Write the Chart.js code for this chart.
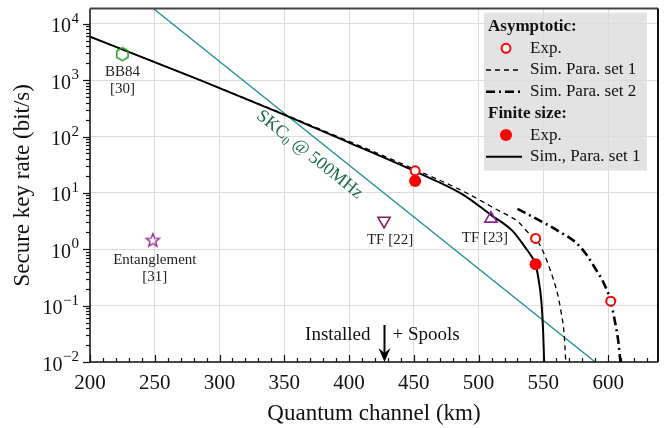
<!DOCTYPE html>
<html>
<head>
<meta charset="utf-8">
<script src="https://cdn.jsdelivr.net/npm/chart.js@4.4.1/dist/chart.umd.min.js"></script>
<style>
  html, body { margin: 0; padding: 0; background: #fff; }
  #wrap { width: 670px; height: 428px; }
</style>
</head>
<body>
<div id="wrap"><canvas id="keyRateChart" width="670" height="428"></canvas></div>
<script>
// ---- data (km, bit/s) ----
const xMin = 200, xMax = 638.5;
const yMin = 0.01, yMax = 18600;

// SKC0 @ 500MHz bound
const skcKm = [245, 590];
const skcRate = [22000, 0.01];

// finite size, sim. para. set 1 (solid)
const finSimKm = [200, 285, 346, 400, 451, 487, 510, 526, 536, 540, 544, 546, 548.4, 549.8, 550.6];
const finSimRate = [5900, 1000, 266, 78, 24, 9.6, 4.0, 2.14, 1.08, 0.8, 0.54, 0.32, 0.123, 0.036, 0.01];

// asymptotic, sim. para. set 1 (dashed)
const asySim1Km = [200, 285, 346, 400, 451, 487, 513, 531, 538, 545, 550, 554, 558, 561, 564, 566, 567.3];
const asySim1Rate = [5900, 1000, 270, 82, 26, 11, 5.2, 3.0, 2.0, 1.45, 0.89, 0.52, 0.28, 0.16, 0.07, 0.032, 0.01];

// asymptotic, sim. para. set 2 (dash-dot)
const asySim2Km = [530, 548, 561, 576, 584, 589, 597, 602, 605, 608, 609.5];
const asySim2Rate = [5.2, 3.16, 2.14, 1.26, 0.76, 0.5, 0.24, 0.12, 0.056, 0.022, 0.01];

// experiments
const expAsyKm = [451, 544, 602];
const expAsyRate = [24.6, 1.56, 0.12];
const expFinKm = [451, 544];
const expFinRate = [16.3, 0.54];

// other works
const bb84Km = [225], bb84Rate = [2900];
const entKm = [248.5], entRate = [1.43];
const tf22Km = [427], tf22Rate = [3.2];
const tf23Km = [509.5], tf23Rate = [3.5];

const installedKm = 427;

const serif = "'Liberation Serif', 'DejaVu Serif', serif";

function pts(xs, ys) {
  return xs.map((x, i) => ({ x: x, y: ys[i] }));
}

// custom marker images (Chart.js has no hexagon or 5-point star)
function makeMarker(kind, color, r, lw) {
  const c = document.createElement('canvas');
  const s = Math.ceil(r * 2 + 4);
  c.width = s; c.height = s;
  const g = c.getContext('2d');
  const cx = s / 2, cy = s / 2;
  g.strokeStyle = color;
  g.lineWidth = lw;
  g.beginPath();
  if (kind === 'hex') {
    for (let i = 0; i < 6; i++) {
      const a = -Math.PI / 2 + i * Math.PI / 3;
      const px = cx + r * Math.cos(a), py = cy + r * Math.sin(a);
      if (i === 0) g.moveTo(px, py); else g.lineTo(px, py);
    }
  } else {
    for (let i = 0; i < 10; i++) {
      const a = -Math.PI / 2 + i * Math.PI / 5;
      const rr = i % 2 === 0 ? r : r * 0.42;
      const px = cx + rr * Math.cos(a), py = cy + rr * Math.sin(a);
      if (i === 0) g.moveTo(px, py); else g.lineTo(px, py);
    }
  }
  g.closePath();
  g.stroke();
  return c;
}

const hexImg = makeMarker('hex', '#229922', 6.5, 1.5);
const starImg = makeMarker('star', '#8e1f8e', 7, 1.3);

const lineBase = {
  showLine: true,
  pointRadius: 0,
  pointHoverRadius: 0,
  fill: false,
  cubicInterpolationMode: 'monotone'
};

// labels next to the literature markers: [km, rate, dx, dy, lines]
const noteLabels = [
  [bb84Km[0], bb84Rate[0], 0, 18, ['BB84', '[30]']],
  [entKm[0], entRate[0], 2, 20, ['Entanglement', '[31]']],
  [tf22Km[0], tf22Rate[0], 6, 19, ['TF [22]']],
  [tf23Km[0], tf23Rate[0], -6, 19, ['TF [23]']]
];

const legendRows = [
  ['head', 'Asymptotic:'],
  ['open', 'Exp.'],
  ['dash', 'Sim. Para. set 1'],
  ['dashdot', 'Sim. Para. set 2'],
  ['head', 'Finite size:'],
  ['filled', 'Exp.'],
  ['solid', 'Sim., Para. set 1']
];

// legend box background goes under the grid (it is semi transparent in the original)
const legendBack = {
  id: 'legendBack',
  beforeDraw(chart) {
    const { ctx, chartArea } = chart;
    ctx.save();
    ctx.fillStyle = 'rgba(226,226,226,0.95)';
    ctx.fillRect(chartArea.right - 174, chartArea.top + 4, 163, 158);
    ctx.restore();
  }
};

const decorations = {
  id: 'decorations',
  afterDraw(chart) {
    const { ctx, chartArea: a, scales } = chart;
    const xs = scales.x, ys = scales.y;
    ctx.save();

    // frame
    ctx.lineWidth = 1.5;
    ctx.strokeStyle = '#111';
    ctx.beginPath();
    ctx.moveTo(a.left, a.top); ctx.lineTo(a.left, a.bottom); ctx.lineTo(a.right, a.bottom);
    ctx.stroke();
    ctx.lineWidth = 2;
    ctx.strokeStyle = '#444';
    ctx.beginPath();
    ctx.moveTo(a.left, a.top); ctx.lineTo(a.right, a.top);
    ctx.stroke();
    ctx.strokeStyle = '#111';
    ctx.beginPath();
    ctx.moveTo(a.right, a.top); ctx.lineTo(a.right, a.bottom);
    ctx.stroke();

    // x ticks, pointing inward
    ctx.lineWidth = 1.2;
    ctx.strokeStyle = '#111';
    for (let v = xMin; v <= xMax; v += 10) {
      const px = Math.round(xs.getPixelForValue(v)) + 0.5;
      const len = v % 50 === 0 ? 7 : 4;
      ctx.beginPath();
      ctx.moveTo(px, a.bottom); ctx.lineTo(px, a.bottom - len);
      ctx.stroke();
    }

    // y ticks, pointing outward, and 10^n labels
    const lo = Math.ceil(Math.log10(ys.min) - 1e-9);
    const hi = Math.floor(Math.log10(ys.max) + 1e-9);
    for (let n = lo - 1; n <= hi; n++) {
      for (let k = 1; k <= 9; k++) {
        const v = k * Math.pow(10, n);
        if (v < ys.min * 0.999 || v > ys.max) continue;
        const py = Math.round(ys.getPixelForValue(v)) + 0.5;
        const len = k === 1 ? 7 : 4;
        ctx.beginPath();
        ctx.moveTo(a.left, py); ctx.lineTo(a.left - len, py);
        ctx.stroke();
      }
    }
    ctx.fillStyle = '#111';
    ctx.textBaseline = 'alphabetic';
    for (let n = lo; n <= hi; n++) {
      const py = ys.getPixelForValue(Math.pow(10, n));
      const exp = n < 0 ? '\u2212' + (-n) : String(n);
      ctx.font = '15px ' + serif;
      ctx.textAlign = 'right';
      const ew = ctx.measureText(exp).width;
      ctx.fillText(exp, 79, py - 1);
      ctx.font = '20px ' + serif;
      ctx.fillText('10', 79 - ew - 0.5, py + 8.5);
    }

    // labels for literature points
    ctx.fillStyle = '#222';
    ctx.font = '15px ' + serif;
    ctx.textAlign = 'center';
    ctx.textBaseline = 'middle';
    noteLabels.forEach(([km, rate, dx, dy, lines]) => {
      const px = xs.getPixelForValue(km) + dx;
      const py = ys.getPixelForValue(rate) + dy;
      lines.forEach((t, i) => ctx.fillText(t, px, py + i * 17));
    });

    // rotated SKC0 label along the teal line
    const p0x = xs.getPixelForValue(skcKm[0]), p0y = ys.getPixelForValue(skcRate[0]);
    const p1x = xs.getPixelForValue(skcKm[1]), p1y = ys.getPixelForValue(skcRate[1]);
    const ang = Math.atan2(p1y - p0y, p1x - p0x);
    ctx.save();
    ctx.translate(xs.getPixelForValue(369.5), ys.getPixelForValue(47.6));
    ctx.rotate(ang);
    ctx.fillStyle = '#1d6b54';
    ctx.textBaseline = 'middle';
    ctx.textAlign = 'left';
    ctx.font = '18px ' + serif;
    const w1 = ctx.measureText('SKC').width;
    ctx.font = '12px ' + serif;
    const w2 = ctx.measureText('0').width;
    ctx.font = '18px ' + serif;
    const w3 = ctx.measureText(' @ 500MHz').width;
    let tx = -(w1 + w2 + w3) / 2;
    ctx.fillText('SKC', tx, 0);
    tx += w1;
    ctx.font = '12px ' + serif;
    ctx.fillText('0', tx, 5);
    tx += w2;
    ctx.font = '18px ' + serif;
    ctx.fillText(' @ 500MHz', tx, 0);
    ctx.restore();

    // installed / spools arrow
    const ax = Math.round(xs.getPixelForValue(installedKm)) + 0.5;
    ctx.strokeStyle = '#000';
    ctx.fillStyle = '#000';
    ctx.lineWidth = 2;
    ctx.beginPath();
    ctx.moveTo(ax, a.bottom - 37); ctx.lineTo(ax, a.bottom - 8);
    ctx.stroke();
    ctx.beginPath();
    ctx.moveTo(ax - 6, a.bottom - 14); ctx.lineTo(ax, a.bottom); ctx.lineTo(ax + 6, a.bottom - 14);
    ctx.lineTo(ax, a.bottom - 9);
    ctx.closePath();
    ctx.fill();
    ctx.font = '19px ' + serif;
    ctx.textBaseline = 'middle';
    ctx.fillStyle = '#111';
    ctx.textAlign = 'right';
    ctx.fillText('Installed', ax - 14, a.bottom - 27);
    ctx.textAlign = 'left';
    ctx.fillText('+ Spools', ax + 8, a.bottom - 27);

    // legend contents
    const lx = a.right - 174;
    const ly = a.top + 4;
    ctx.textBaseline = 'middle';
    ctx.textAlign = 'left';
    legendRows.forEach(([kind, text], i) => {
      const ry = ly + 14 + i * 21.7;
      if (kind === 'head') {
        ctx.font = 'bold 17px ' + serif;
        ctx.fillStyle = '#111';
        ctx.fillText(text, lx + 4, ry);
        return;
      }
      const sx0 = lx + 2, sx1 = lx + 38, mx = lx + 22;
      ctx.save();
      if (kind === 'open') {
        ctx.strokeStyle = '#ff0000'; ctx.lineWidth = 2; ctx.fillStyle = '#fff';
        ctx.beginPath(); ctx.arc(mx, ry, 4.5, 0, Math.PI * 2); ctx.fill(); ctx.stroke();
      } else if (kind === 'filled') {
        ctx.fillStyle = '#ff0000';
        ctx.beginPath(); ctx.arc(mx, ry, 6, 0, Math.PI * 2); ctx.fill();
      } else {
        ctx.strokeStyle = '#000';
        ctx.lineWidth = kind === 'dashdot' ? 2.6 : (kind === 'solid' ? 2 : 1.3);
        if (kind === 'dash') ctx.setLineDash([5, 4]);
        if (kind === 'dashdot') ctx.setLineDash([9, 4, 2, 4]);
        ctx.beginPath(); ctx.moveTo(sx0, ry); ctx.lineTo(sx1, ry); ctx.stroke();
      }
      ctx.restore();
      ctx.font = '17px ' + serif;
      ctx.fillStyle = '#111';
      ctx.fillText(text, lx + 46, ry);
    });

    ctx.restore();
  }
};

function isDecade(v) {
  const l = Math.log10(v);
  return Math.abs(l - Math.round(l)) < 1e-9;
}

const ctx = document.getElementById('keyRateChart').getContext('2d');
new Chart(ctx, {
  type: 'scatter',
  data: {
    datasets: [
      { label: 'Exp. asymptotic', data: pts(expAsyKm, expAsyRate), order: 0,
        pointStyle: 'circle', pointRadius: 4.5, pointBorderWidth: 2,
        pointBorderColor: '#ff0000', pointBackgroundColor: '#ffffff' },
      { label: 'Exp. finite size', data: pts(expFinKm, expFinRate), order: 1,
        pointStyle: 'circle', pointRadius: 6, pointBorderWidth: 0,
        pointBackgroundColor: '#ff0000', pointBorderColor: '#ff0000' },
      { label: 'BB84 [30]', data: pts(bb84Km, bb84Rate), order: 0,
        pointStyle: hexImg },
      { label: 'Entanglement [31]', data: pts(entKm, entRate), order: 0,
        pointStyle: starImg },
      { label: 'TF [22]', data: pts(tf22Km, tf22Rate), order: 0,
        pointStyle: 'triangle', rotation: 180, pointRadius: 7, pointBorderWidth: 1.6,
        pointBorderColor: '#7b1f5a', pointBackgroundColor: 'rgba(255,255,255,0)' },
      { label: 'TF [23]', data: pts(tf23Km, tf23Rate), order: 0,
        pointStyle: 'triangle', pointRadius: 7, pointBorderWidth: 1.6,
        pointBorderColor: '#8e1f8e', pointBackgroundColor: 'rgba(255,255,255,0)' },
      Object.assign({ label: 'Sim., Para. set 1', data: pts(finSimKm, finSimRate), order: 3,
        borderColor: '#000', borderWidth: 2 }, lineBase),
      Object.assign({ label: 'Sim. Para. set 1', data: pts(asySim1Km, asySim1Rate), order: 4,
        borderColor: '#000', borderWidth: 1.3, borderDash: [5, 4] }, lineBase),
      Object.assign({ label: 'Sim. Para. set 2', data: pts(asySim2Km, asySim2Rate), order: 4,
        borderColor: '#000', borderWidth: 2.6, borderDash: [9, 4, 2, 4] }, lineBase),
      Object.assign({ label: 'SKC0 @ 500MHz', data: pts(skcKm, skcRate), order: 5,
        borderColor: '#17918f', borderWidth: 1.3 }, lineBase, { cubicInterpolationMode: 'default', tension: 0 })
    ]
  },
  options: {
    responsive: false,
    animation: false,
    devicePixelRatio: 1,
    layout: { padding: { top: 8, right: 12, left: 0, bottom: 0 } },
    plugins: { legend: { display: false }, tooltip: { enabled: false } },
    scales: {
      x: {
        type: 'linear',
        min: xMin, max: xMax,
        afterFit(scale) { scale.height = 66; },
        border: { display: false },
        grid: { color: '#dcdcdc', lineWidth: 1, drawTicks: false },
        ticks: {
          stepSize: 50, includeBounds: false, padding: 9,
          color: '#111', font: { family: serif, size: 21 }, maxRotation: 0
        },
        title: {
          display: true, text: 'Quantum channel (km)', color: '#111',
          font: { family: serif, size: 23, lineHeight: 1.2 }, padding: { top: 0, bottom: 0 }
        }
      },
      y: {
        type: 'logarithmic',
        min: yMin, max: yMax,
        afterFit(scale) { scale.width = 90; },
        border: { display: false },
        grid: {
          drawTicks: false, lineWidth: 1,
          color: c => (c.tick && isDecade(c.tick.value)) ? '#dcdcdc' : 'rgba(0,0,0,0)'
        },
        ticks: { display: false },
        title: {
          display: true, text: 'Secure key rate (bit/s)', color: '#111',
          font: { family: serif, size: 23, lineHeight: 1.2 }, padding: { top: 9, bottom: 0 }
        }
      }
    }
  },
  plugins: [legendBack, decorations]
});
</script>
</body>
</html>
